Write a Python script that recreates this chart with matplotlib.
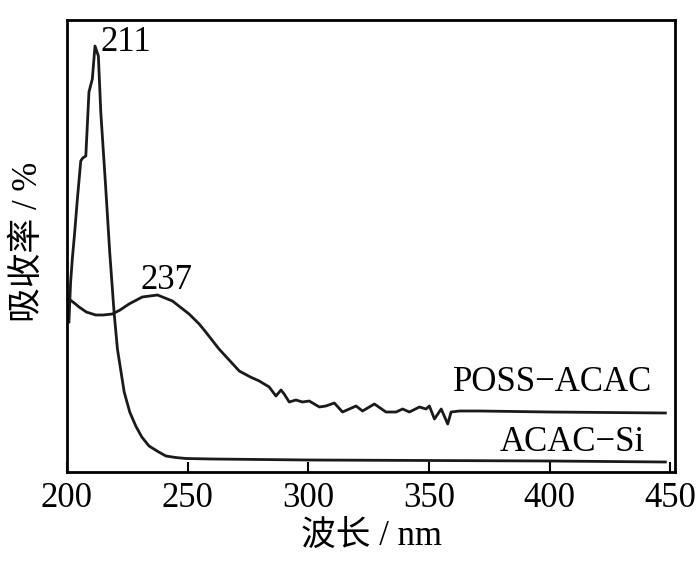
import numpy as np
import matplotlib
matplotlib.use("Agg")
import matplotlib.pyplot as plt

# font: Times-like serif for latin, CJK fallback for the chinese labels
plt.rcParams['font.family'] = ['Liberation Serif', 'Noto Sans CJK SC', 'DejaVu Sans']
plt.rcParams['axes.unicode_minus'] = False

# data (relative absorbance, arbitrary units)
acac_si_wl = [200.8, 201.5, 202.2, 203.2, 204.3, 205.7, 206.5, 207.8, 209.1, 210.5,
              211.6, 213.0, 214.0, 216.0, 217.7, 219.5, 220.9, 223.7, 226.0, 228.5,
              231.0, 234.0, 238.0, 241.0, 245.0, 249.3, 260.0, 300.0, 350.0, 400.0, 448.0]
acac_si_abs = [150, 190, 213, 240, 273, 311, 314, 316, 380, 393,
               426, 416, 360, 286, 220, 160, 123, 80, 60, 46,
               35, 26, 20, 16, 14.5, 13.5, 13, 12, 11.5, 11, 10]

poss_wl = [200.8, 203.0, 205.0, 208.0, 211.9, 215.0, 218.8, 222.0, 225.7, 231.2,
           237.5, 243.7, 250.6, 254.8, 257.5, 263.0, 271.4, 276.0, 279.7, 283.8,
           286.6, 288.7, 290.0, 292.1, 294.9, 297.6, 300.4, 304.6, 307.3, 310.8,
           314.2, 317.0, 319.8, 322.5, 327.4, 332.2, 336.4, 339.1, 341.9, 346.1,
           348.8, 350.2, 352.3, 355.1, 357.8, 359.2, 362.7, 371.0, 400.0, 448.0]
poss_abs = [173, 169, 165, 160, 157, 157, 158, 162, 168, 175,
            177, 171, 158, 148, 140, 123, 101, 95, 91, 85,
            76, 82, 78, 70, 72, 70, 71, 65, 66, 69,
            60, 63, 66, 61, 68, 60, 60, 63, 60, 65,
            63, 66, 53, 63, 48, 60, 61, 61, 60, 59]

xticks = [200, 250, 300, 350, 400, 450]

fig = plt.figure(figsize=(7, 5.64), dpi=100)
ax = fig.add_axes([67/700, 1-472/564, 608/700, 452/564])

ax.plot(acac_si_wl, acac_si_abs, color='#1a1a1a', lw=2.0)
ax.plot(poss_wl, poss_abs, color='#1a1a1a', lw=2.0)

# peak and curve labels
ax.text(224.3, 421, '211', fontsize=25, ha='center', va='baseline')
ax.text(241.1, 183, '237', fontsize=25, ha='center', va='baseline')
ax.text(442.7, 81, 'POSS\u2212ACAC', fontsize=25, ha='right', va='baseline')
ax.text(439.4, 21, 'ACAC\u2212Si', fontsize=25, ha='right', va='baseline')

ax.set_xlim(200, 452)
ax.set_ylim(0, 452)
ax.set_xticks(xticks)
ax.set_yticks([])
ax.tick_params(axis='x', direction='in', length=7, width=1.5, pad=7, labelsize=25)
for s in ax.spines.values():
    s.set_linewidth(2.0)

ax.set_xlabel('波长 / nm', fontsize=25, labelpad=4)
ax.set_ylabel('吸收率 / %', fontsize=25, va='center')
ax.yaxis.set_label_coords(-0.064, 0.51)

fig.savefig('out.png', dpi=100)
